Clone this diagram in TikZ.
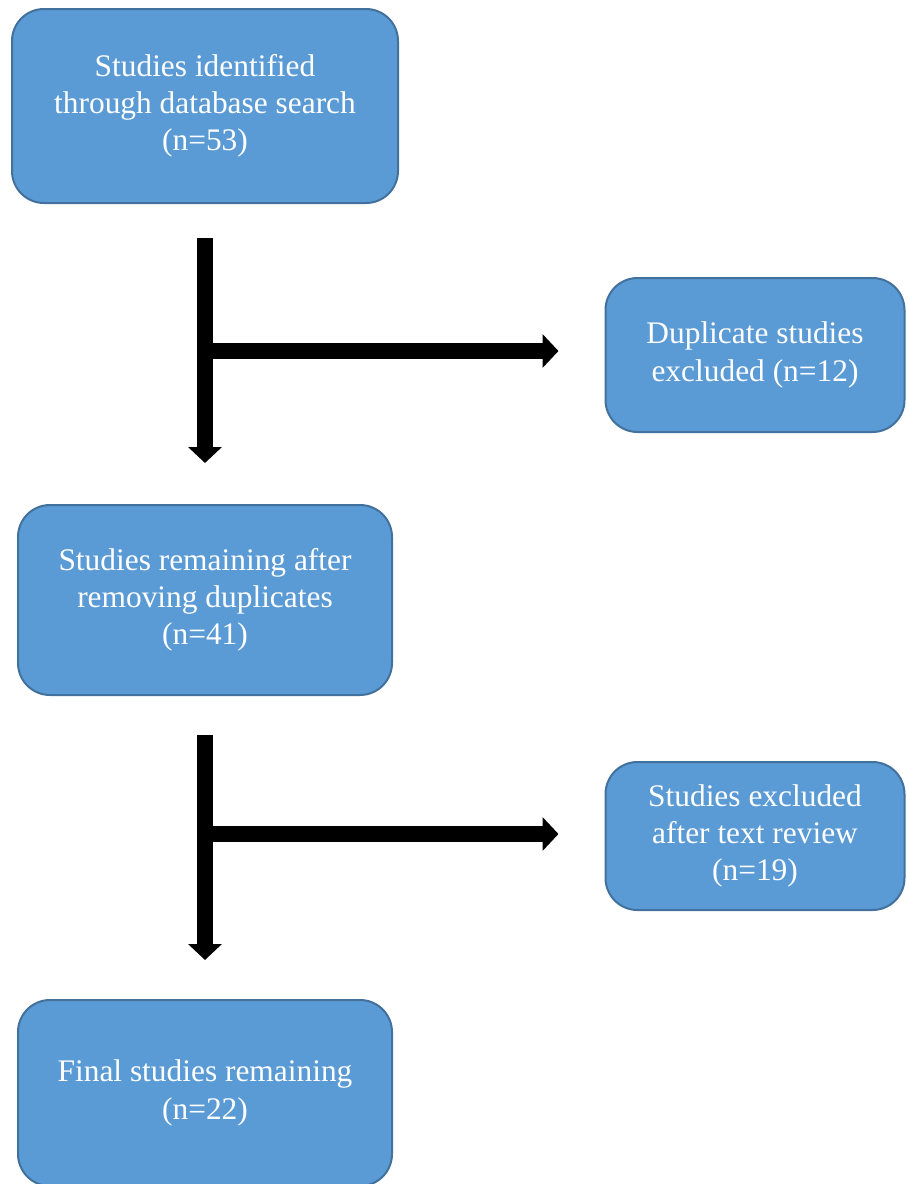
\documentclass[tikz,border=0pt]{standalone}
\usepackage{fontspec}
\setmainfont{Liberation Serif}
\usetikzlibrary{arrows.meta, positioning}
\definecolor{fcFill}{HTML}{5B9BD5}
\definecolor{fcEdge}{HTML}{41719C}

\begin{document}
\begin{tikzpicture}[
  x=0.5pt, y=-0.5pt,
  node distance=150pt,
  box/.style={draw=fcEdge, fill=fcFill, line width=1pt, rounded corners=16pt,
              align=center, text=white, font=\fontsize{15.7}{18.6}\selectfont,
              inner sep=0pt},
  arr/.style={-{Triangle[length=8pt, width=16.5pt]}, line width=8pt, color=black}
]
  \useasboundingbox (0,0) rectangle (906,1184);
  % Main column
  \node[box, minimum width=193pt, minimum height=97pt] (found) at (205,106)
    {Studies identified\\through database search\\(n=53)};
  \node[box, minimum width=187pt, minimum height=95pt, below=150pt of found] (remain)
    {Studies remaining after\\removing duplicates\\(n=41)};
  \node[box, minimum width=187pt, minimum height=93pt, below=151.5pt of remain] (final)
    {Final studies remaining\\(n=22)};
  % Exclusions
  \node[box, minimum width=149.5pt, minimum height=77pt] (dup) at (755,355)
    {Duplicate studies\\excluded (n=12)};
  \node[box, minimum width=149.5pt, minimum height=74pt] (excl) at (755,836)
    {Studies excluded\\after text review\\(n=19)};

  \coordinate (j1) at ([yshift=2pt]found.south |- dup.west);
  \coordinate (j2) at ([yshift=1pt]remain.south |- excl.west);

  \draw[arr, shorten <=17pt, shorten >=20.5pt] (found.south) -- (remain.north);
  \draw[arr, shorten >=23pt] (j1) -- (j1 -| dup.west);
  \draw[arr, shorten <=19.5pt, shorten >=19.5pt] (remain.south) -- (final.north);
  \draw[arr, shorten >=23pt] (j2) -- (j2 -| excl.west);
\end{tikzpicture}
\end{document}
